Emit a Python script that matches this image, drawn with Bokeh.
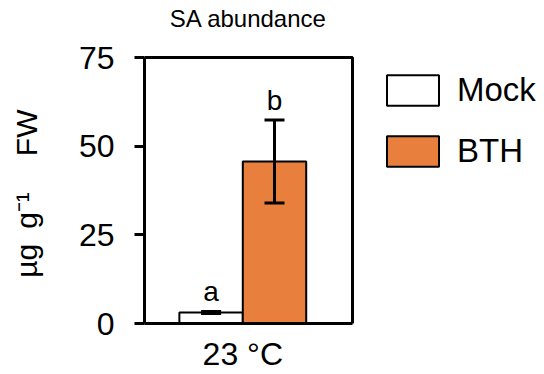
from bokeh.plotting import figure
from bokeh.models import (ColumnDataSource, Range1d, FixedTicker, Legend,
                          LegendItem, Whisker, TeeHead, LinearAxis, BoxAnnotation)
from bokeh.core.properties import value
from bokeh.embed import file_html
from bokeh.resources import INLINE

# ---- data ----
treatments = ["Mock", "BTH"]
sa_mean = [3.1, 45.7]
sa_err = [0.3, 11.7]
letters = ["a", "b"]
bar_colors = ["#FFFFFF", "#E97F3C"]
group_label = "23 °C"
title_text = "SA abundance"
y_label = "µg\u2002g⁻¹\u2002\u2002\u2009FW\u00a0"
y_ticks = [0, 25, 50, 75]

FONT = "Liberation Sans"

# ---- geometry (pixels) ----
W, H = 540, 374
FL = 144              # frame left
BOX_W = 208           # width of the drawn plot box
BOX_T, BOX_B = 57, 323  # top (value 75) and bottom (value 0) of the box
FT = 55               # frame top (a little above the box so its line is not clipped)
X0, XB = -1.05, 2.23  # data x at box left / right
Y0, YB = 0, 75
X1 = X0 + (W - FL) * (XB - X0) / BOX_W
Y1 = YB * (BOX_B - FT) / (BOX_B - BOX_T)

xs = list(range(len(treatments)))
group_x = sum(xs) / len(xs)
title_x = (X0 + XB) / 2
src = ColumnDataSource(dict(
    x=xs, top=sa_mean, color=bar_colors, label=treatments,
    upper=[m + e for m, e in zip(sa_mean, sa_err)],
    lower=[m - e for m, e in zip(sa_mean, sa_err)],
    ly=[m + e + 5.6 for m, e in zip(sa_mean, sa_err)],
    letter=letters,
))

p = figure(width=W, height=H, output_backend="svg", toolbar_location=None,
           x_range=Range1d(X0, X1), y_range=Range1d(Y0, Y1),
           min_border_left=FL, min_border_top=FT,
           min_border_right=0, min_border_bottom=H - BOX_B)
p.background_fill_color = "white"
p.border_fill_color = "white"
p.outline_line_color = None
p.xgrid.visible = False
p.ygrid.visible = False

p.add_layout(BoxAnnotation(left=X0, right=XB, bottom=Y0, top=YB,
                           fill_color=None, fill_alpha=0, line_color="black",
                           line_alpha=1.0, line_width=3, level="underlay"))

bars = []
for i, t in enumerate(treatments):
    r = p.vbar(x=[xs[i]], top=[sa_mean[i]], width=1.0, bottom=0,
               fill_color=bar_colors[i], line_color="black", line_width=2)
    bars.append(r)

wh = Whisker(base="x", upper="upper", lower="lower", source=src,
             line_color="black", line_width=3, level="overlay",
             upper_head=TeeHead(size=20, line_color="black", line_width=3),
             lower_head=TeeHead(size=20, line_color="black", line_width=3))
p.add_layout(wh)

p.text(x="x", y="ly", text="letter", source=src, text_align="center",
       text_baseline="middle", text_font=value(FONT),
       text_font_size="28px", text_color="black")

# title as a label on an axis above the box
top_axis = LinearAxis(ticker=FixedTicker(ticks=[title_x]),
                      major_label_overrides={title_x: title_text},
                      axis_line_color=None, major_tick_line_color=None,
                      major_tick_out=0, major_tick_in=0,
                      minor_tick_line_color=None, major_label_standoff=24,
                      major_label_text_font=FONT,
                      major_label_text_font_size="24px",
                      major_label_text_color="black")
p.add_layout(top_axis, "above")

# y axis
ya = p.left[0]
ya.ticker = FixedTicker(ticks=y_ticks)
ya.bounds = (Y0, YB)
ya.axis_line_width = 3
ya.major_tick_line_width = 3
ya.major_tick_out = 10
ya.major_tick_in = 0
ya.minor_tick_line_color = None
ya.major_label_standoff = 20
ya.major_label_text_font = FONT
ya.major_label_text_font_size = "32px"
ya.major_label_text_color = "black"
ya.axis_label = y_label
ya.axis_label_text_font = FONT
ya.axis_label_text_font_size = "30px"
ya.axis_label_text_font_style = "normal"
ya.axis_label_text_color = "black"
ya.axis_label_standoff = 33

# x axis
xa = p.below[0]
xa.ticker = FixedTicker(ticks=[group_x])
xa.major_label_overrides = {group_x: group_label}
xa.bounds = (X0, XB)
xa.axis_line_width = 3
xa.major_tick_line_color = None
xa.major_tick_out = 0
xa.major_tick_in = 0
xa.minor_tick_line_color = None
xa.major_label_standoff = 12
xa.major_label_text_font = FONT
xa.major_label_text_font_size = "32px"
xa.major_label_text_color = "black"

# key: area swatches are drawn inset by 10% of the glyph box
GW, GH = 65, 38
legend = Legend(items=[LegendItem(label=t, renderers=[bars[i]])
                       for i, t in enumerate(treatments)],
                location=(236, 153), margin=0, padding=0,
                spacing=23, glyph_width=GW, glyph_height=GH, label_height=GH,
                label_standoff=12, label_text_font=FONT,
                label_text_font_size="33px", label_text_color="black",
                border_line_color=None, background_fill_alpha=0)
p.add_layout(legend)

open("out.html", "w").write(file_html(p, INLINE))
